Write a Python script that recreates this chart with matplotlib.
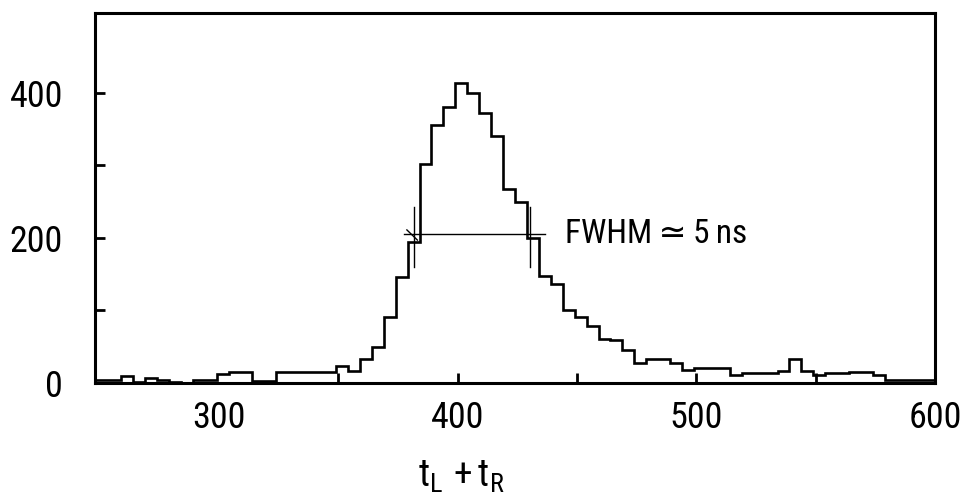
import numpy as np
import matplotlib
matplotlib.use("Agg")
import matplotlib.pyplot as plt
from matplotlib import font_manager

# ---- data ----
bin_start = 244
bin_width = 5
counts = [4, 4, 4, 9, 2, 7, 4, 2, 0, 4,
          4, 12, 15, 15, 3, 3, 15, 15, 15, 15,
          15, 24, 16, 33, 50, 91, 146, 195, 302, 355,
          380, 414, 400, 372, 341, 267, 250, 200, 148, 137,
          101, 91, 78, 61, 59, 45, 27, 33, 33, 28,
          18, 20, 20, 20, 11, 14, 14, 14, 17, 33,
          17, 11, 14, 14, 15, 15, 11, 4, 4, 4,
          4, 4]
x_ticks_major = [300, 400, 500, 600]
x_ticks_minor = [350, 450, 550]
y_ticks_major = [0, 200, 400]
y_ticks_minor = [100, 300]
fwhm_level = 206
fwhm_left = 381.8
fwhm_right = 430.4
fwhm_line_x = [377.6, 436.7]
fwhm_text = "FWHM\u2009\u2243\u20095\u2009ns"
x_label = r"$\mathrm{t_L\/ + t_R}$"

# ---- font choice: prefer a narrow sans ----
fl = font_manager.fontManager.ttflist
names = {f.name for f in fl}
stretch = "normal"
if "Liberation Sans Narrow" in names:
    FONT, FS = "Liberation Sans Narrow", 27
elif "Roboto Condensed" in names:
    FONT, FS = "Roboto Condensed", 26
elif any(f.name == "DejaVu Sans" and f.stretch == "condensed" for f in fl):
    FONT, FS, stretch = "DejaVu Sans", 23, "condensed"
else:
    FONT, FS = "Roboto", 24

plt.rcParams["font.family"] = [FONT, "DejaVu Sans"]
plt.rcParams["font.stretch"] = stretch
plt.rcParams["mathtext.fontset"] = "custom"
plt.rcParams["mathtext.rm"] = FONT
plt.rcParams["mathtext.it"] = FONT

fig = plt.figure(figsize=(9.63, 4.99), dpi=100)
ax = fig.add_axes([95 / 963, 116 / 499, 840 / 963, 370 / 499])

edges = bin_start + bin_width * np.arange(len(counts) + 1)
ax.stairs(counts, edges, color="black", linewidth=1.9, baseline=0)

# FWHM marker
ax.plot(fwhm_line_x, [fwhm_level, fwhm_level], color="black", lw=1.0)
for xm in (fwhm_left, fwhm_right):
    ax.plot([xm, xm], [160, 242], color="black", lw=1.0)
ax.plot([378.7, 383.1], [211, 197], color="black", lw=1.0)
ax.text(445, fwhm_level, fwhm_text, fontsize=FS - 2, va="center", ha="left",
        family=[FONT, "DejaVu Sans"])

ax.set_xlim(248, 600)
ax.set_ylim(0, 510)

ax.set_xticks(x_ticks_major)
ax.set_xticklabels([str(v) for v in x_ticks_major])
ax.set_xticks(x_ticks_minor, minor=True)
ax.set_yticks(y_ticks_major)
ax.set_yticklabels([str(v) for v in y_ticks_major])
ax.set_yticks(y_ticks_minor, minor=True)

ax.tick_params(axis="both", which="both", direction="in", width=2.0,
               length=7, labelsize=FS)
ax.tick_params(axis="y", which="major", pad=23)
ax.tick_params(axis="x", which="major", pad=12)
ax.tick_params(top=False, right=False)
ax.xaxis.get_major_ticks()[0].tick1line.set_visible(False)
ax.get_xticklabels()[-1].set_x(598)

for s in ax.spines.values():
    s.set_linewidth(2.2)

fig.text(461 / 963, 12 / 499, x_label, fontsize=FS + 1, ha="center", va="baseline")

fig.savefig("out.png", dpi=100)
